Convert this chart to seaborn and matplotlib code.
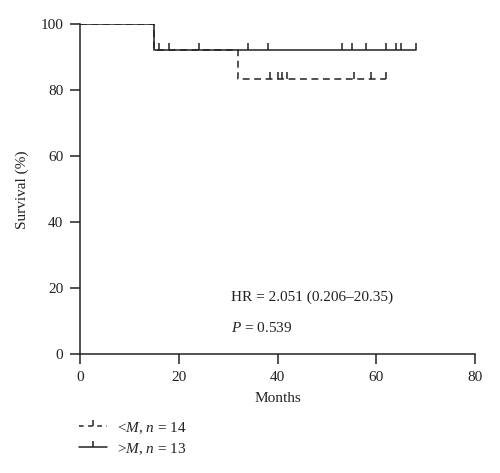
import numpy as np
import pandas as pd
import matplotlib
matplotlib.use("Agg")
import matplotlib.pyplot as plt
import seaborn as sns
from matplotlib.lines import Line2D
from matplotlib.path import Path

# ---- data ----
# step curves (time, survival %) -- steps-post
low_times = [0, 15, 32, 62]
low_surv = [100, 92.3, 83.4, 83.4]
low_censor = [38.5, 40, 41, 42, 55.5, 59, 62]

high_times = [0, 15, 68]
high_surv = [100, 92.3, 92.3]
high_censor = [16, 18, 24, 34, 38, 53, 55, 58, 62, 64, 65, 68]

group_labels = [r"<$M$, $n$ = 14", r">$M$, $n$ = 13"]
hr_text = "HR = 2.051 (0.206\u201320.35)"
p_text = r"$P$ = 0.539"
x_ticks = [0, 20, 40, 60, 80]
y_ticks = [0, 20, 40, 60, 80, 100]

sns.set_theme(style="ticks")
plt.rcParams["font.family"] = ["Liberation Serif", "DejaVu Serif"]
plt.rcParams["mathtext.fontset"] = "custom"
plt.rcParams["mathtext.rm"] = "Liberation Serif"
plt.rcParams["mathtext.it"] = "Liberation Serif:italic"

ink = "#222222"
fig = plt.figure(figsize=(5.0, 4.73), dpi=100)
ax = fig.add_axes([0.16, 0.251, 0.79, 0.6976])

df = pd.concat([
    pd.DataFrame({"t": low_times, "s": low_surv, "g": group_labels[0]}),
    pd.DataFrame({"t": high_times, "s": high_surv, "g": group_labels[1]}),
])

tick_marker = Path([(0, 0), (0, 1)], [Path.MOVETO, Path.LINETO])

def step_value(times, surv, t):
    idx = np.searchsorted(times, t, side="right") - 1
    return surv[idx]

styles = {group_labels[0]: (0, (4.5, 3)), group_labels[1]: "-"}
for g, times, surv, cens in [(group_labels[0], low_times, low_surv, low_censor),
                             (group_labels[1], high_times, high_surv, high_censor)]:
    sub = df[df.g == g]
    sns.lineplot(data=sub, x="t", y="s", ax=ax, drawstyle="steps-post",
                 estimator=None, color=ink, lw=1.1, linestyle=styles[g],
                 legend=False)
    cy = [step_value(np.array(times), np.array(surv), c) for c in cens]
    ax.plot(cens, cy, linestyle="none", marker=tick_marker, markersize=10,
            markeredgewidth=1.1, color=ink)

ax.set_xlim(0, 80)
ax.set_ylim(0, 100)
ax.set_xticks(x_ticks)
ax.set_yticks(y_ticks)
ax.set_xlabel("Months", fontsize=11, color=ink, labelpad=6)
ax.set_ylabel("Survival (%)", fontsize=11, color=ink, labelpad=8)
ax.tick_params(axis="both", direction="out", length=7, width=1.1,
               labelsize=11, colors=ink, pad=5)
ax.margins(0)
for side in ["top", "right"]:
    ax.spines[side].set_visible(False)
for side in ["left", "bottom"]:
    ax.spines[side].set_linewidth(1.1)
    ax.spines[side].set_color(ink)

ax.text(30.5, 17.2, hr_text, fontsize=11, color=ink, va="center")
ax.text(30.5, 8.0, p_text, fontsize=11, color=ink, va="center")

handles = [
    Line2D([0], [0], color=ink, lw=1.1, linestyle=(0, (3, 3)),
           marker=tick_marker, markersize=9, markeredgewidth=1.1),
    Line2D([0], [0], color=ink, lw=1.1, linestyle="-",
           marker=tick_marker, markersize=9, markeredgewidth=1.1),
]
fig.legend(handles, group_labels, loc="upper left",
           bbox_to_anchor=(0.146, 0.125), frameon=False, fontsize=11,
           handlelength=1.8, handletextpad=0.7, labelspacing=0.35,
           borderaxespad=0, labelcolor=ink, numpoints=1)

fig.savefig("out.png", dpi=100)
